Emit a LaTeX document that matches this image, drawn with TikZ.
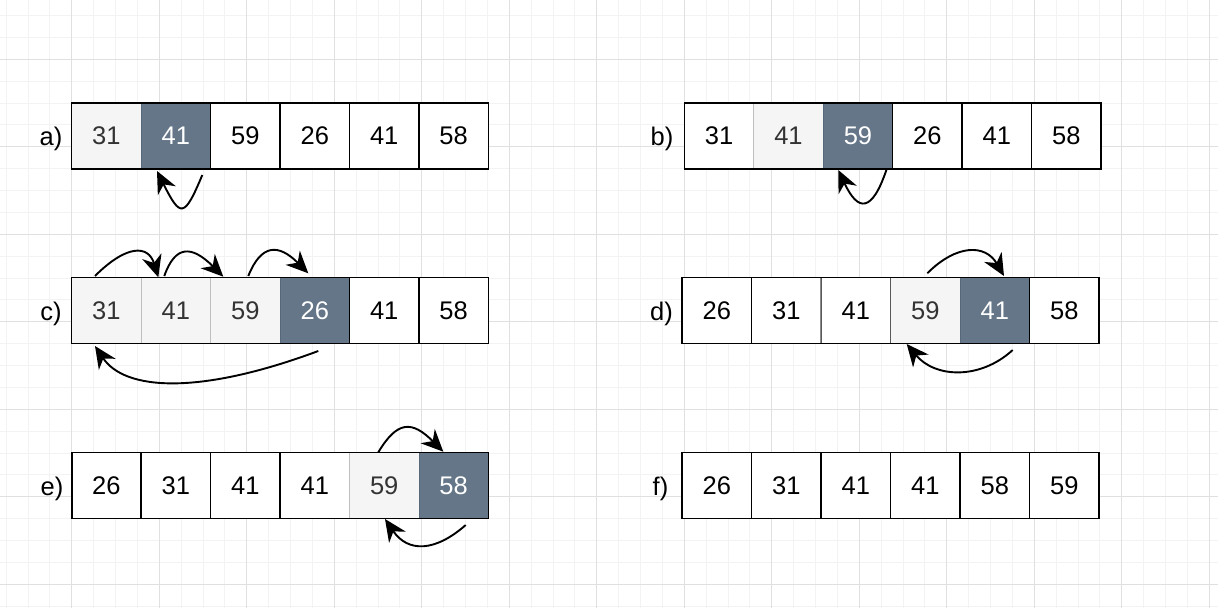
\documentclass[tikz,border=0pt]{standalone}
\usepackage{fontspec}
\setmainfont{Liberation Sans}
\usetikzlibrary{arrows.meta}
\definecolor{gfill}{HTML}{F5F5F5}
\definecolor{gtext}{HTML}{333333}
\definecolor{dfill}{HTML}{647687}
\definecolor{dline}{HTML}{56687A}
\definecolor{minorc}{HTML}{F3F3F3}
\definecolor{majorc}{HTML}{E0E0E0}
\newcommand\cellfont{\fontsize{25.5}{30}\selectfont}
\tikzset{arr/.style={-{Stealth[length=22pt,width=20pt,inset=7pt]}, line width=1.9pt}}
\begin{document}
\begin{tikzpicture}[x=1pt,y=-1pt,
  cell/.style={minimum width=69.45pt, minimum height=66pt, inner sep=0pt, outer sep=0pt, font=\cellfont},
  wb/.style={cell, fill=white, draw=black, line width=1.6pt},
  wl/.style={cell, fill=white, draw=#1, line width=1pt},
  wl/.default={black!45},
  gc/.style={cell, fill=gfill, draw=black!25, line width=0.9pt, text=gtext},
  dc/.style={cell, fill=dfill, draw=dline, line width=0.9pt, text=white},
  frame/.style={draw=black, line width=1.3pt},
  lab/.style={font=\cellfont, inner sep=0pt, anchor=base},
  minorl/.style={draw=minorc, line width=0.9pt},
  majorl/.style={draw=majorc, line width=0.9pt}]
\useasboundingbox (0,0) rectangle (1218,608);
\fill[white] (0,0) rectangle (1218,608);
% grid
\foreach \i in {0,...,55} { \draw[minorl] ({6.1+21.875*\i},0) -- ++(0,608); }
\foreach \j in {0,...,27} { \draw[minorl] (0,{15.5+21.875*\j}) -- ++(1218,0); }
\foreach \i in {0,...,13} { \draw[majorl] ({71.7+87.5*\i},0) -- ++(0,608); }
\foreach \j in {0,...,6} { \draw[majorl] (0,{59.3+87.5*\j}) -- ++(1218,0); }

% ---------- row a ----------
\node[gc] (a1) at ({71.7+34.725},135.85) {31};
\node[dc] (a2) at ({71.7+34.725+69.45},135.85) {41};
\node[wb] (a3) at ({71.7+34.725+2*69.45},135.85) {59};
\node[wb] (a4) at ({71.7+34.725+3*69.45},135.85) {26};
\node[wb] (a5) at ({71.7+34.725+4*69.45},135.85) {41};
\node[wb] (a6) at ({71.7+34.725+5*69.45},135.85) {58};
\draw[frame] (a1.north west) rectangle (a6.south east);
\node[lab] (la) at (51,145.6) {a)};
\coordinate (aS) at (202.3,175);
\coordinate (aT) at (157,171);
\draw[arr] (aS) .. controls (184.3,218) and (180.5,218) .. (aT);

% ---------- row b ----------
\node[wl=black!20] (b1) at ({684.3+34.725},135.85) {31};
\node[gc] (b2) at ({684.3+34.725+69.45},135.85) {41};
\node[dc] (b3) at ({684.3+34.725+2*69.45},135.85) {59};
\node[wb] (b4) at ({684.3+34.725+3*69.45},135.85) {26};
\node[wb] (b5) at ({684.3+34.725+4*69.45},135.85) {41};
\node[wb] (b6) at ({684.3+34.725+5*69.45},135.85) {58};
\draw[frame] (b1.north west) rectangle (b6.south east);
\node[lab] (lb) at (662,145.8) {b)};
\coordinate (bS) at (886.7,169);
\coordinate (bT) at (838.3,170);
\draw[arr] (bS) .. controls (872,213) and (858,212) .. (bT);

% ---------- row c ----------
\node[gc] (c1) at ({71.7+34.725},310.65) {31};
\node[gc] (c2) at ({71.7+34.725+69.45},310.65) {41};
\node[gc] (c3) at ({71.7+34.725+2*69.45},310.65) {59};
\node[dc] (c4) at ({71.7+34.725+3*69.45},310.65) {26};
\node[wb] (c5) at ({71.7+34.725+4*69.45},310.65) {41};
\node[wb] (c6) at ({71.7+34.725+5*69.45},310.65) {58};
\draw[frame] (c1.north west) rectangle (c6.south east);
\node[lab] (lc) at (51,320.1) {c)};
\coordinate (c1S) at (95,276);
\coordinate (c1T) at (158.3,277.3);
\coordinate (c2S) at (164.3,276);
\coordinate (c2T) at (223.3,276.7);
\coordinate (c3S) at (248.3,276);
\coordinate (c3T) at (308.3,273.3);
\coordinate (c4S) at (318.3,351);
\coordinate (c4T) at (95,346);
\draw[arr] (c1S) .. controls (126.4,244.6) and (148.3,244.6) .. (c1T);
\draw[arr] (c2S) .. controls (175.2,245) and (191.6,245) .. (c2T);
\draw[arr] (c3S) .. controls (261.3,243.6) and (278.6,243.6) .. (c3T);
\draw[arr] (c4S) .. controls (200,395) and (125,391) .. (c4T);

% ---------- row d ----------
\node[wl] (d2) at ({682+34.75+69.5},310.5) {31};
\node[gc] (d4) at ({682+34.75+3*69.5},310.5) {59};
\node[wl=black!65] (d3) at ({682+34.75+2*69.5},310.5) {41};
\node[dc] (d5) at ({682+34.75+4*69.5},310.5) {41};
\node[wb] (d1) at ({682+34.75},310.5) {26};
\node[wb] (d6) at ({682+34.75+5*69.5},310.5) {58};
\draw[frame] (d1.north west) rectangle (d6.south east);
\node[lab] (ld) at (661.5,320.1) {d)};
\coordinate (d1S) at (927.3,273.3);
\coordinate (d1T) at (1004,276);
\coordinate (d2S) at (1012.7,350);
\coordinate (d2T) at (906.7,344);
\draw[arr] (d1S) .. controls (956.6,244) and (985.4,244) .. (d1T);
\draw[arr] (d2S) .. controls (980,380) and (935,378) .. (d2T);

% ---------- row e ----------
\node[wl] (e4) at ({71.7+34.725+3*69.45},485.6) {41};
\node[wl] (e2) at ({71.7+34.725+69.45},485.6) {31};
\node[gc] (e5) at ({71.7+34.725+4*69.45},485.6) {59};
\node[dc] (e6) at ({71.7+34.725+5*69.45},485.6) {58};
\node[wb] (e1) at ({71.7+34.725},485.6) {26};
\node[wb] (e3) at ({71.7+34.725+2*69.45},485.6) {41};
\draw[frame] (e1.north west) rectangle (e6.south east);
\node[lab] (le) at (52,495.1) {e)};
\coordinate (e1S) at (378.3,452.3);
\coordinate (e1T) at (443.3,451.7);
\coordinate (e2S) at (465.7,525);
\coordinate (e2T) at (385,519);
\draw[arr] (e1S) .. controls (397.4,420.4) and (412,420.4) .. (e1T);
\draw[arr] (e2S) .. controls (435,552) and (407.9,552.7) .. (e2T);

% ---------- row f ----------
\node[wl] (f2) at ({682+34.75+69.5},485.65) {31};
\node[wb] (f1) at ({682+34.75},485.65) {26};
\node[wb] (f3) at ({682+34.75+2*69.5},485.65) {41};
\node[wb] (f4) at ({682+34.75+3*69.5},485.65) {41};
\node[wb] (f5) at ({682+34.75+4*69.5},485.65) {58};
\node[wb] (f6) at ({682+34.75+5*69.5},485.65) {59};
\draw[frame] (f1.north west) rectangle (f6.south east);
\node[lab] (lf) at (660.5,495.8) {f)};
\end{tikzpicture}
\end{document}
